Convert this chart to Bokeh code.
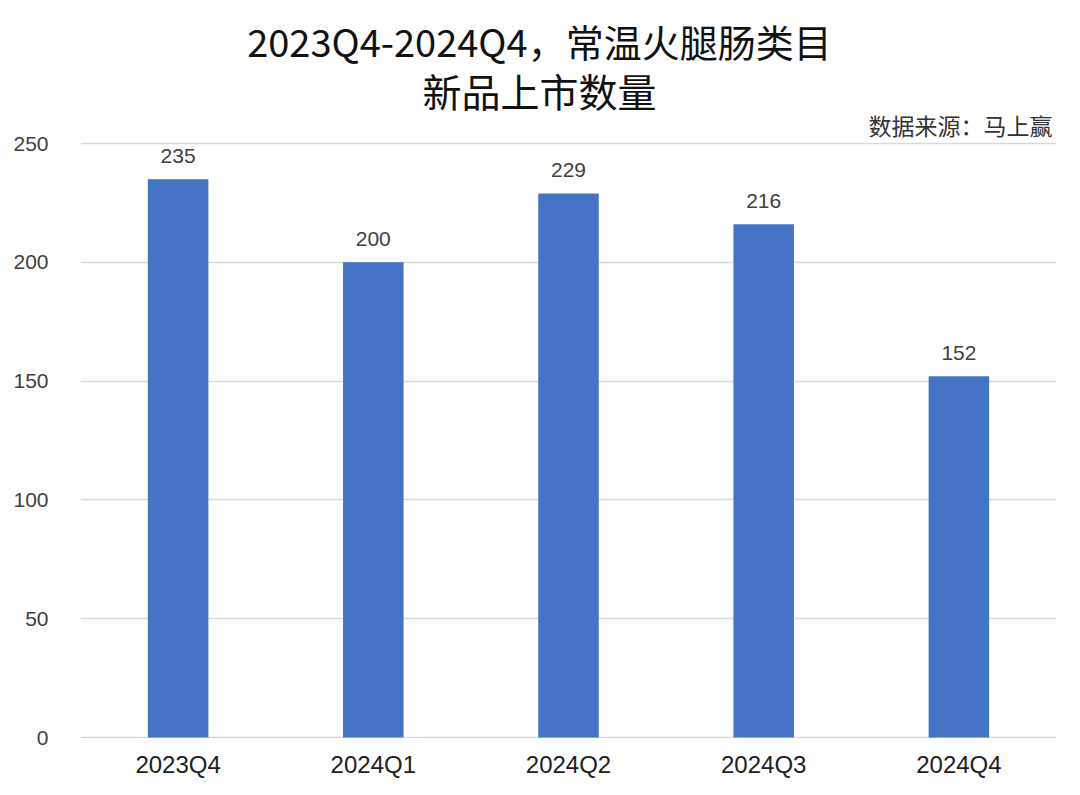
from bokeh.plotting import figure
from bokeh.models import Label, LabelSet, ColumnDataSource, Range1d, FixedTicker
from bokeh.core.properties import value
from bokeh.embed import file_html
from bokeh.resources import INLINE

categories = ["2023Q4", "2024Q1", "2024Q2", "2024Q3", "2024Q4"]
values = [235, 200, 229, 216, 152]
y_ticks = [0, 50, 100, 150, 200, 250]
title_line1 = "2023Q4-2024Q4，常温火腿肠类目"
title_line2 = "新品上市数量"
source_note = "数据来源：马上赢"

CJK = "Noto Sans CJK SC"
LAT = "Liberation Sans"

src = ColumnDataSource(dict(cat=categories, val=values,
                            lbl=[str(v) for v in values]))

# frame extends to the top of the canvas; value 250 sits 143px below the top
p = figure(x_range=categories, y_range=Range1d(-0.42, 310.19),
           frame_width=976, frame_height=738, output_backend="svg",
           toolbar_location=None,
           min_border_left=80, min_border_right=8,
           min_border_top=0, min_border_bottom=41)
p.background_fill_color = "white"
p.border_fill_color = "white"
p.outline_line_color = None

p.vbar(x="cat", top="val", width=0.31, source=src,
       fill_color="#4472C4", line_color=None)

labels = LabelSet(x="cat", y="val", text="lbl", source=src,
                  text_align="center", text_baseline="alphabetic",
                  y_offset=16, text_font=value(LAT), text_font_size=value("21px"),
                  text_color="#404040")
p.add_layout(labels)

p.yaxis.ticker = FixedTicker(ticks=y_ticks)
p.yaxis.axis_line_color = None
p.yaxis.major_tick_line_color = None
p.yaxis.minor_tick_line_color = None
p.yaxis.major_tick_out = 0
p.yaxis.major_tick_in = 0
p.yaxis.minor_tick_out = 0
p.yaxis.major_label_standoff = 32
p.yaxis.major_label_text_font = LAT
p.yaxis.major_label_text_font_size = "21px"
p.yaxis.major_label_text_color = "#404040"

p.xaxis.axis_line_color = None
p.xaxis.major_tick_line_color = None
p.xaxis.minor_tick_line_color = None
p.xaxis.major_tick_out = 0
p.xaxis.major_tick_in = 0
p.xaxis.minor_tick_out = 0
p.xaxis.major_label_standoff = 12
p.xaxis.major_label_text_font = LAT
p.xaxis.major_label_text_font_size = "24px"
p.xaxis.major_label_text_color = "#202020"

p.xgrid.grid_line_color = None
p.ygrid.grid_line_color = "#D9D9D9"
p.ygrid.grid_line_width = 1.5

p.add_layout(Label(x=2.351, y=293.35,
                   text=title_line1, text_align="center", text_baseline="middle",
                   text_font=CJK, text_font_size="38px", text_color="#111111"))
p.add_layout(Label(x=2.351, y=272.73,
                   text=title_line2, text_align="center", text_baseline="middle",
                   text_font=CJK, text_font_size="39px", text_color="#111111"))
p.add_layout(Label(x=4.98, y=257.6,
                   text=source_note, text_align="right", text_baseline="middle",
                   text_font=CJK, text_font_size="23px", text_color="#333333"))

open("out.html", "w").write(file_html(p, INLINE))
